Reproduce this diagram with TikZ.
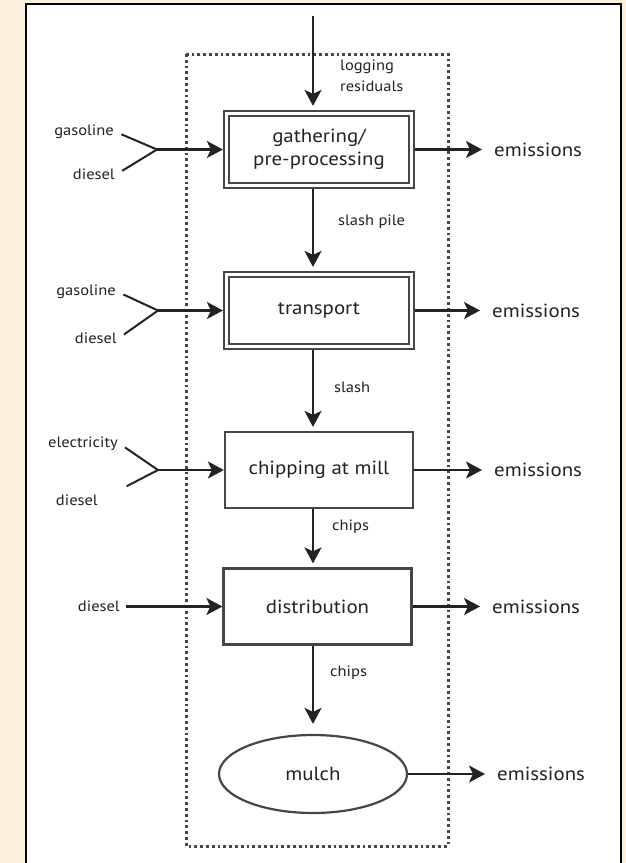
\documentclass[tikz,border=0pt]{standalone}
\usepackage{fontspec}
\setmainfont[FakeStretch=1.1]{PT Sans}
\usetikzlibrary{arrows.meta,shapes.geometric}
\definecolor{bgbeige}{RGB}{250,240,220}
\definecolor{ink}{RGB}{35,35,35}
\definecolor{edge}{RGB}{70,70,70}
\definecolor{dotc}{RGB}{70,70,70}
\begin{document}
\begin{tikzpicture}[x=1pt,y=-1pt,
  arr/.style={line width=2.3pt, draw=ink, -{Stealth[length=16pt,width=17pt,inset=4pt]}},
  fork/.style={line width=2pt, draw=ink},
  bigtxt/.style={font=\fontsize{19}{23}\selectfont, text=ink},
  dblbox/.style={bigtxt, draw=edge, line width=2.2pt, double=white, double distance=2.8pt,
    minimum width=185pt, minimum height=72pt, outer sep=3.6pt, align=center, inner sep=0pt},
  procbox/.style={bigtxt, draw=edge, line width=2.2pt, minimum width=188pt, minimum height=76pt, inner sep=0pt},
  oval/.style={bigtxt, ellipse, draw=edge, line width=2.2pt, minimum width=188pt, minimum height=78pt, inner sep=0pt},
  em/.style={bigtxt, anchor=west, inner xsep=12pt, inner ysep=0pt},
  lbl/.style={font=\fontsize{15}{21}\selectfont, text=ink, inner sep=2pt},
]
\useasboundingbox (0,0) rectangle (626,863);
\clip (0,0) rectangle (626,863);
\fill[bgbeige] (0,0) rectangle (626,863);
\draw[line width=1.8pt, fill=white] (26,4) rectangle (621,880);
\draw[dotc, line width=3pt, dash pattern=on 2.8pt off 3pt] (186,54) rectangle (448,846);

% process nodes
\node[dblbox] (b1) at (319,149.5) {gathering/\\pre-processing};
\node[dblbox] (b2) at (319,310.5) {transport};
\node[procbox] (b3) at (319,470) {chipping at mill};
\node[procbox] (b4) at (317.5,606.5) {distribution};
\node[oval] (b5) at (313,774) {mulch};

% main flow
\coordinate (t0) at (313,16);
\draw[arr, shorten >=4pt] (t0) -- (b1.north -| t0);
\draw[arr, shorten >=4pt] (b1.south -| t0) -- (b2.north -| t0);
\draw[arr, shorten >=4pt] (b2.south -| t0) -- (b3.north -| t0);
\draw[arr, shorten >=4pt] (b3.south -| t0) -- (b4.north -| t0);
\draw[arr, shorten >=10pt] (b4.south -| t0) -- (b5.north);

% flow labels
\node[lbl, anchor=west, align=left] (lr) at (338,76) {logging\\residuals};
\node[lbl, anchor=west] (sp) at (336,222) {slash pile};
\node[lbl, anchor=west] (sl) at (332,387) {slash};
\node[lbl, anchor=west] (c1) at (330,527) {chips};
\node[lbl, anchor=west] (c2) at (328,673) {chips};

% emissions
\node[em] (e1) at (482,149.5) {emissions};
\node[em] (e2) at (480,310.5) {emissions};
\node[em] (e3) at (482,470) {emissions};
\node[em] (e4) at (480,606.5) {emissions};
\node[em] (e5) at (485,774) {emissions};
\draw[arr] (b1.east) -- (e1.west);
\draw[arr] (b2.east) -- (e2.west);
\draw[arr] (b3.east) -- (e3.west);
\draw[arr] (b4.east) -- (e4.west);
\draw[arr] (b5.east) -- (e5.west);

% inputs row 1
\node[lbl, anchor=east] (g1) at (116,132) {gasoline};
\node[lbl, anchor=east] (d1) at (117,174) {diesel};
\coordinate (j1) at (157,149.5);
\draw[fork, shorten <=6pt] (g1.east) -- (j1);
\draw[fork, shorten <=6pt] (d1.east) -- (j1);
\draw[arr] (j1) -- (b1.west);

% inputs row 2
\node[lbl, anchor=east] (g2) at (118,292) {gasoline};
\node[lbl, anchor=east] (d2) at (119,338) {diesel};
\coordinate (j2) at (158,310.5);
\draw[fork, shorten <=6pt] (g2.east) -- (j2);
\draw[fork, shorten <=6pt] (d2.east) -- (j2);
\draw[arr] (j2) -- (b2.west);

% inputs row 3
\node[lbl, anchor=east] (el3) at (120,444) {electricity};
\node[lbl, anchor=east] (d3) at (100,500) {diesel};
\coordinate (j3) at (158,470);
\draw[fork, shorten <=6pt] (el3.east) -- (j3);
\draw[fork, shorten <=30pt] (d3.east) -- (j3);
\draw[arr] (j3) -- (b3.west);

% inputs row 4
\node[lbl, anchor=east] (d4) at (122,606.5) {diesel};
\draw[arr, shorten <=4pt] (d4.east) -- (b4.west);
\end{tikzpicture}
\end{document}
